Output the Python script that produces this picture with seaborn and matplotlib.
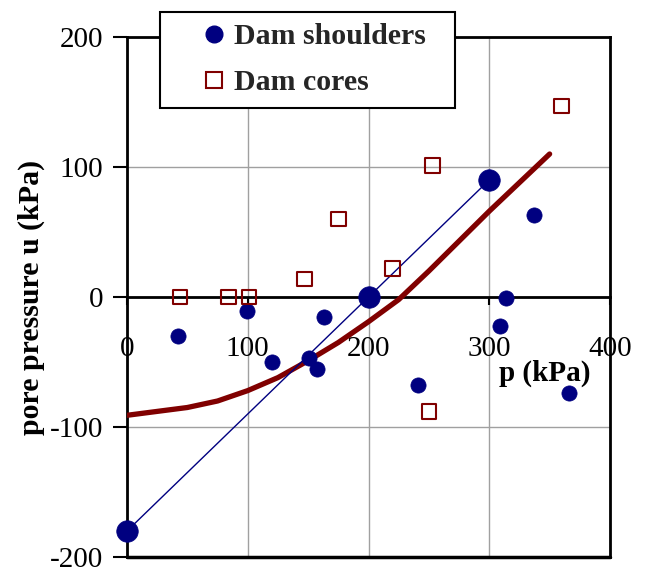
import matplotlib
matplotlib.use("Agg")
import matplotlib.pyplot as plt
import seaborn as sns
import pandas as pd
from matplotlib.lines import Line2D
from matplotlib.legend_handler import HandlerLine2D

sns.set_theme(style="white")
plt.rcParams['font.family'] = ['Liberation Serif', 'DejaVu Serif']

# Data
shoulders_p = [42, 99, 120, 151, 157, 163, 241, 309, 314, 337, 366]
shoulders_u = [-30, -11, -50, -47, -55, -15, -68, -22, -1, 63, -74]
cores_p = [44, 84, 101, 147, 175, 220, 253, 250, 360]
cores_u = [0, 0, 0, 14, 60, 22, 101, -88, 147]
line_p = [0, 200, 300]
line_u = [-180, 0, 90]
curve_p = [0, 25, 50, 75, 100, 125, 150, 175, 200, 225, 250, 275, 300, 325, 350]
curve_u = [-91, -88, -85, -80, -72, -62, -49, -35, -19, -2, 20, 43, 66, 88, 110]
x_ticks = [0, 100, 200, 300, 400]
y_ticks = [-200, -100, 0, 100, 200]

navy = "#000080"
maroon = "#800000"


class ShiftedHandler(HandlerLine2D):
    def create_artists(self, legend, orig_handle, xdescent, ydescent, width,
                       height, fontsize, trans):
        return super().create_artists(legend, orig_handle, xdescent - 6,
                                      ydescent, width, height, fontsize, trans)


fig = plt.figure(figsize=(6.45, 5.68), dpi=100)
ax = fig.add_axes([127/645, 11/568, 483/645, 520/568])

ax.set_xlim(0, 400)
ax.set_ylim(-200, 200)
ax.set_xticks(x_ticks)
ax.set_yticks(y_ticks)
ax.grid(True, color="#a0a0a0", linewidth=1.0)
ax.set_axisbelow(True)

# frame border at the bottom (x-axis spine sits at u = 0)
ax.axhline(-200, color="black", linewidth=2.5, zorder=2, clip_on=False)

sns.lineplot(x=curve_p, y=curve_u, ax=ax, color=maroon, linewidth=3.8,
             sort=False, estimator=None, zorder=3, legend=False)
sns.lineplot(x=line_p, y=line_u, ax=ax, color=navy, linewidth=1.0,
             sort=False, estimator=None, zorder=3, legend=False)
sns.scatterplot(x=line_p, y=line_u, ax=ax, color=navy, s=240, edgecolor=navy,
                linewidth=0.5, zorder=4, legend=False, clip_on=False)
sns.scatterplot(x=shoulders_p, y=shoulders_u, ax=ax, color=navy, s=120,
                edgecolor=navy, linewidth=0.5, zorder=4, legend=False)
sns.scatterplot(x=cores_p, y=cores_u, ax=ax, marker="s", s=110,
                facecolor="none", edgecolor=maroon, linewidth=1.5, zorder=4,
                legend=False)

for sp in ax.spines.values():
    sp.set_color("black")
    sp.set_linewidth(2)
    sp.set_visible(True)
ax.spines["bottom"].set_position(("data", 0))

ax.tick_params(axis="x", bottom=True, direction="out", length=6, width=1.5,
               color="black", labelsize=21, pad=22, labelcolor="black")
ax.tick_params(axis="y", left=True, direction="out", length=10, width=1.5,
               color="black", labelsize=21, pad=7, labelcolor="black")
ax.set_xticklabels([str(v) for v in x_ticks])
ax.set_yticklabels([str(v) for v in y_ticks])

ax.set_xlabel("")
ax.set_ylabel("pore pressure u (kPa)", fontsize=21.5, fontweight="bold",
              color="black")
ax.yaxis.set_label_coords(-0.17, 0.5)
ax.text(0.865, 0.354, "p (kPa)", transform=ax.transAxes, fontsize=21,
        fontweight="bold", ha="center", va="center", color="black")

handles = [
    Line2D([], [], marker="o", linestyle="none", markersize=12,
           markerfacecolor=navy, markeredgecolor=navy),
    Line2D([], [], marker="s", linestyle="none", markersize=11,
           markerfacecolor="none", markeredgecolor=maroon, markeredgewidth=1.5),
]
leg = ax.legend(handles, ["Dam shoulders", "Dam cores"], loc="upper left",
                bbox_to_anchor=(0.068, 1.049, 0.611, 0.0), mode="expand",
                frameon=True, fancybox=False,
                edgecolor="black", framealpha=1,
                prop={"size": 21.5, "weight": "bold"},
                handletextpad=-0.2, borderpad=0.4, labelspacing=0.63,
                handlelength=2.3, borderaxespad=0,
                handler_map={Line2D: ShiftedHandler(numpoints=1)})
leg.get_frame().set_linewidth(1.5)
leg.set_zorder(10)

fig.savefig("out.png", dpi=100)
